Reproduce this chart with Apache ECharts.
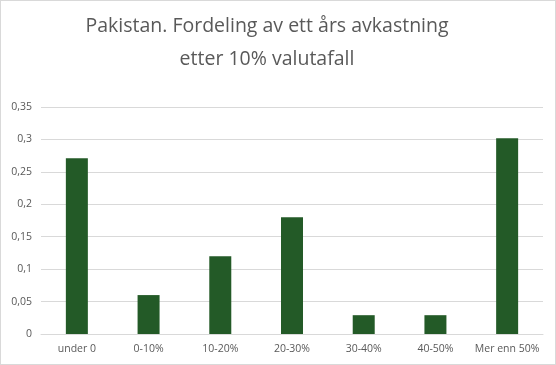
<!DOCTYPE html>
<html><head><meta charset="utf-8">
<script src="https://cdn.jsdelivr.net/npm/echarts@6/dist/echarts.min.js"></script>
<style>html,body{margin:0;padding:0;background:#fff}#c{width:554px;height:363px;border:1px solid #d9d9d9}</style>
</head><body><div id="c"></div>
<script>
var categories = ['under 0','0-10%','10-20%','20-30%','30-40%','40-50%','Mer enn 50%'];
var values = [0.271, 0.060, 0.120, 0.180, 0.029, 0.029, 0.302];
var chart = echarts.init(document.getElementById('c'));
chart.setOption({
  animation:false,
  title:{text:'Pakistan. Fordeling av ett års avkastning\netter 10% valutafall',left:261,textAlign:'center',top:4,
    textStyle:{fontFamily:'Open Sans',fontWeight:'normal',fontSize:19.5,color:'#595959',lineHeight:33}},
  grid:{left:40,right:12,top:106,bottom:30},
  xAxis:{type:'category',data:categories,
    axisLine:{lineStyle:{color:'#d9d9d9'}},axisTick:{show:false},
    axisLabel:{color:'#595959',fontSize:10.5,fontFamily:'Open Sans',margin:10,interval:0}},
  yAxis:{type:'value',min:0,max:0.35,interval:0.05,
    axisLabel:{color:'#595959',fontSize:10.5,fontFamily:'Open Sans',margin:9,
      formatter:function(v){return String(Math.round(v*100)/100).replace('.',',');}},
    splitLine:{lineStyle:{color:'#d9d9d9'}}},
  series:[{type:'bar',data:values,barWidth:22,itemStyle:{color:'#235a27'}}]
});
</script></body></html>
